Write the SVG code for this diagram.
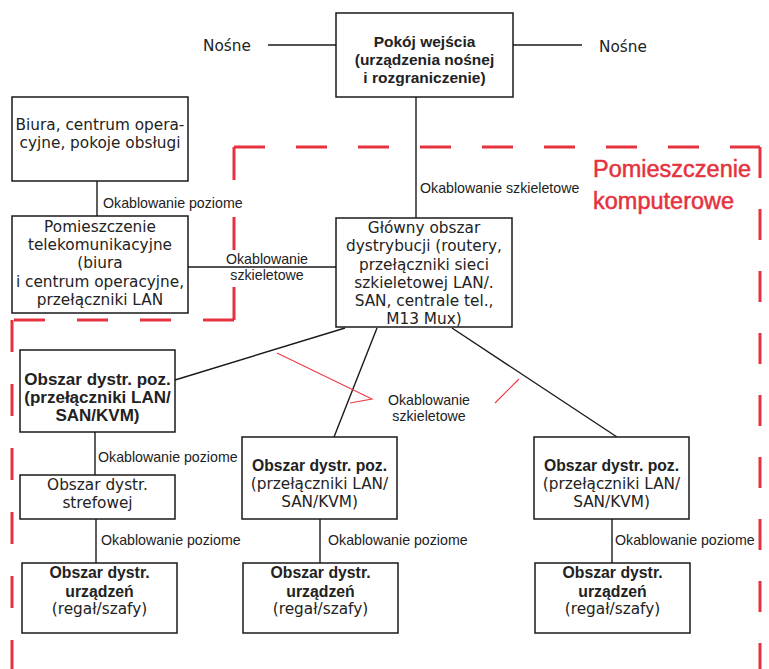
<svg xmlns="http://www.w3.org/2000/svg" width="769" height="669" viewBox="0 0 769 669">
<style>
.box{fill:#fff;stroke:#1a1a1a;stroke-width:1.5}
.ln{stroke:#1a1a1a;stroke-width:1.4;fill:none}
.rl{stroke:#ee3a44;stroke-width:1.1;fill:none}
.rd{stroke:#e5323e;stroke-width:3;fill:none}
.t{font-family:"DejaVu Sans",sans-serif;font-size:15.3px;fill:#222;text-anchor:middle}
.b{font-family:"Liberation Sans",Arial,sans-serif;font-weight:bold;fill:#222;text-anchor:middle}
.lb{font-family:"Liberation Sans",Arial,sans-serif;font-size:14.2px;fill:#222}
.red{font-family:"Liberation Sans",Arial,sans-serif;font-size:23.5px;fill:#e5323e;stroke:#e5323e;stroke-width:0.5}
</style>
<rect width="769" height="669" fill="#fff"/>
<g id="room-border">
<line class="rd" x1="234" y1="147" x2="760" y2="147" stroke-dasharray="31 31"/>
<line class="rd" x1="760" y1="147" x2="760" y2="669" stroke-dasharray="31 31"/>
<line class="rd" x1="234" y1="147" x2="234" y2="320" stroke-dasharray="33 37"/>
<line class="rd" x1="234" y1="320" x2="12" y2="320" stroke-dasharray="31 32"/>
<line class="rd" x1="12" y1="320" x2="12" y2="669" stroke-dasharray="32 32"/>
<text class="red" x="593" y="177">Pomieszczenie</text>
<text class="red" x="593" y="209">komputerowe</text>
</g>
<g id="connectors">
<line class="ln" x1="268" y1="45" x2="336" y2="45"/>
<line class="ln" x1="513" y1="45" x2="582" y2="45"/>
<line class="ln" x1="416" y1="97" x2="416" y2="218"/>
<line class="ln" x1="97" y1="181" x2="97" y2="216"/>
<line class="ln" x1="188" y1="267" x2="336" y2="267"/>
<line class="ln" x1="345" y1="328" x2="175" y2="380"/>
<line class="ln" x1="377" y1="328" x2="334" y2="437"/>
<line class="ln" x1="452" y1="328" x2="617" y2="437"/>
<line class="ln" x1="95" y1="432" x2="95" y2="475"/>
<line class="ln" x1="96" y1="519" x2="96" y2="563"/>
<line class="ln" x1="320" y1="519" x2="320" y2="563"/>
<line class="ln" x1="612" y1="519" x2="612" y2="563"/>
<polyline class="rl" points="277,353 372,399 350,403"/>
<line class="rl" x1="495" y1="403" x2="519" y2="379"/>
<text class="t" x="227" y="51">Nośne</text>
<text class="t" x="623" y="52">Nośne</text>
<text class="lb" x="103" y="208">Okablowanie poziome</text>
<text class="lb" x="267" y="264" text-anchor="middle">Okablowanie</text>
<text class="lb" x="267" y="280" text-anchor="middle">szkieletowe</text>
<text class="lb" x="420" y="193">Okablowanie szkieletowe</text>
<text class="lb" x="429" y="405" text-anchor="middle">Okablowanie</text>
<text class="lb" x="429" y="421" text-anchor="middle">szkieletowe</text>
<text class="lb" x="98" y="462">Okablowanie poziome</text>
<text class="lb" x="101" y="545">Okablowanie poziome</text>
<text class="lb" x="328" y="545">Okablowanie poziome</text>
<text class="lb" x="615" y="545">Okablowanie poziome</text>
</g>
<g id="entrance">
<rect class="box" x="336" y="13" width="177" height="84"/>
<text class="b" font-size="15.5" x="424.5" y="47">Pokój wejścia</text>
<text class="b" font-size="15.5" x="424.5" y="65">(urządzenia nośnej</text>
<text class="b" font-size="15.5" x="424.5" y="83">i rozgraniczenie)</text>
</g>
<g id="offices">
<rect class="box" x="12" y="97" width="176" height="84"/>
<text class="t" x="100" y="130">Biura, centrum opera-</text>
<text class="t" x="100" y="148">cyjne, pokoje obsługi</text>
</g>
<g id="telecom">
<rect class="box" x="12" y="216" width="176" height="97"/>
<text class="t" x="100" y="232">Pomieszczenie</text>
<text class="t" x="100" y="250">telekomunikacyjne</text>
<text class="t" x="100" y="268">(biura</text>
<text class="t" x="100" y="287">i centrum operacyjne,</text>
<text class="t" x="100" y="305">przełączniki LAN</text>
</g>
<g id="mda">
<rect class="box" x="336" y="218" width="176" height="109"/>
<text class="t" x="424" y="233">Główny obszar</text>
<text class="t" x="424" y="251">dystrybucji (routery,</text>
<text class="t" x="424" y="270">przełączniki sieci</text>
<text class="t" x="424" y="288">szkieletowej LAN/.</text>
<text class="t" x="424" y="306">SAN, centrale tel.,</text>
<text class="t" x="424" y="324">M13 Mux)</text>
</g>
<g id="hda1">
<rect class="box" x="20" y="350" width="155" height="82"/>
<text class="b" font-size="17" x="97.5" y="385">Obszar dystr. poz.</text>
<text class="b" font-size="17" x="97.5" y="403">(przełączniki LAN/</text>
<text class="b" font-size="17" x="97.5" y="421">SAN/KVM)</text>
</g>
<g id="zda">
<rect class="box" x="20" y="475" width="155" height="44"/>
<text class="t" x="97.5" y="490">Obszar dystr.</text>
<text class="t" x="97.5" y="508">strefowej</text>
</g>
<g id="hda2">
<rect class="box" x="242" y="437" width="155" height="82"/>
<text class="b" font-size="15.7" x="319.5" y="471">Obszar dystr. poz.</text>
<text class="t" font-size="16" x="319.5" y="489">(przełączniki LAN/</text>
<text class="t" font-size="16" x="319.5" y="507">SAN/KVM)</text>
</g>
<g id="hda3">
<rect class="box" x="534" y="437" width="155" height="82"/>
<text class="b" font-size="15.7" x="611.5" y="471">Obszar dystr. poz.</text>
<text class="t" font-size="16" x="611.5" y="489">(przełączniki LAN/</text>
<text class="t" font-size="16" x="611.5" y="507">SAN/KVM)</text>
</g>
<g id="eda1">
<rect class="box" x="22" y="563" width="155" height="70"/>
<text class="b" font-size="15.8" x="99.5" y="578">Obszar dystr.</text>
<text class="b" font-size="15.8" x="99.5" y="597">urządzeń</text>
<text class="t" x="99.5" y="614">(regał/szafy)</text>
</g>
<g id="eda2">
<rect class="box" x="243" y="563" width="155" height="70"/>
<text class="b" font-size="15.8" x="320.5" y="578">Obszar dystr.</text>
<text class="b" font-size="15.8" x="320.5" y="597">urządzeń</text>
<text class="t" x="320.5" y="614">(regał/szafy)</text>
</g>
<g id="eda3">
<rect class="box" x="535" y="563" width="155" height="70"/>
<text class="b" font-size="15.8" x="612.5" y="578">Obszar dystr.</text>
<text class="b" font-size="15.8" x="612.5" y="597">urządzeń</text>
<text class="t" x="612.5" y="614">(regał/szafy)</text>
</g>
</svg>
